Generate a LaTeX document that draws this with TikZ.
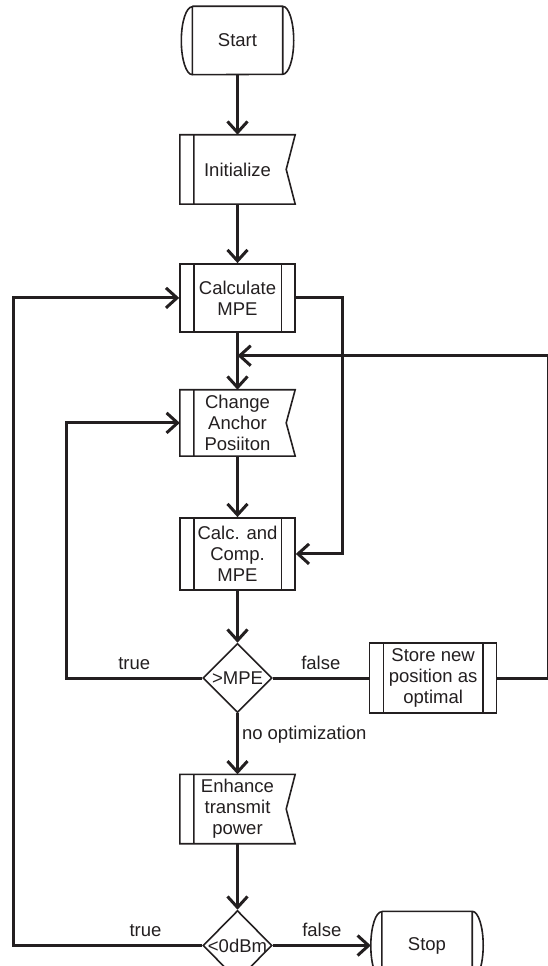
\documentclass[tikz,border=0pt]{standalone}
\usepackage{fontspec}
\setmainfont{Liberation Sans}
\usepackage{tikz}
\usetikzlibrary{shapes.geometric, arrows.meta, positioning}
\definecolor{ink}{HTML}{231F20}

\begin{document}
\begin{tikzpicture}[
    font=\fontsize{18.5}{21}\selectfont,
    color=ink,
    node distance=58pt,
    frame/.style={line width=1.6pt, line join=miter},
    shell/.style={rectangle, inner sep=0pt, minimum width=115pt, minimum height=68pt, align=center},
    terminal/.style={shell, minimum width=112pt},
    process/.style={shell, draw, frame},
    manual/.style={shell},
    decision/.style={diamond, draw, frame, inner sep=0pt, minimum width=69pt, minimum height=69pt},
    line/.style={line width=3pt},
    arrow/.style={line, -{Straight Barb[length=11pt, width=20pt]}},
    tag/.style={above=5pt, inner sep=2pt}
]
\useasboundingbox (0,0) rectangle (547pt,-966pt);

\node[terminal] (start) at (237.5pt,-40.5pt) {Start};
\node[manual, minimum height=69pt, below=60pt of start] (init) {Initialize};
\node[process, below=59pt of init] (calc) {Calculate\\MPE};
\coordinate[below=23pt of calc] (merge);
\node[manual, minimum height=66pt, below=57pt of calc] (change) {Change\\Anchor\\Posiiton};
\node[process, minimum height=72pt, below=61pt of change] (calccomp) {Calc. and\\Comp.\\MPE};
\node[decision, below=52pt of calccomp, label=center:{>MPE}] (test1) {};
\node[process, minimum width=127pt, minimum height=70pt, right=96pt of test1] (store) {Store new\\position as\\optimal};
\node[manual, minimum height=69pt, below=61pt of test1] (enhance) {Enhance\\transmit\\power};
\node[decision, minimum height=70pt, below=66pt of enhance, label=center:{<0dBm}] (test2) {};
\node[terminal, right=98pt of test2] (stop) {Stop};

% side bars of the process boxes
\foreach \n in {calc, calccomp, store}
  \draw[frame] ([xshift=14.5pt]\n.north west) -- ([xshift=14.5pt]\n.south west)
               ([xshift=-14.5pt]\n.north east) -- ([xshift=-14.5pt]\n.south east);

% boxes with the notched right side
\foreach \n in {init, change, enhance}
  \draw[frame] (\n.north west) -- (\n.north east) -- ([xshift=-9pt]\n.east)
    -- (\n.south east) -- (\n.south west) -- cycle
    ([xshift=14pt]\n.north west) -- ([xshift=14pt]\n.south west);

% start / stop
\foreach \n in {start, stop}
  \draw[frame] ([xshift=11pt]\n.north west) -- ([xshift=-11pt]\n.north east)
    arc[start angle=90, end angle=-90, x radius=11pt, y radius=34pt]
    -- ([xshift=11pt]\n.south west)
    arc[start angle=270, end angle=90, x radius=11pt, y radius=34pt]
    ([xshift=11pt]\n.north west) -- ([xshift=11pt]\n.south west)
    ([xshift=-11pt]\n.north east) -- ([xshift=-11pt]\n.south east);

\draw[arrow] (start) -- (init);
\draw[arrow] (init) -- (calc);
\draw[arrow] (calc) -- (change);
\draw[arrow] (calc.east) -- ++(47pt,0) |- (calccomp.east);
\draw[arrow] (change) -- (calccomp);
\draw[arrow] (calccomp) -- (test1);
\draw[arrow] (test1.west) -- ++(-136pt,0) node[tag, midway] {true} |- (change.west);
\draw[line] (test1.east) -- node[tag] {false} (store.west);
\draw[arrow] (store.east) -- ++(51pt,0) |- (merge);
\draw[arrow] (test1) -- node[right, pos=0.35, inner sep=3pt] {no optimization} (enhance);
\draw[arrow] (enhance) -- (test2);
\draw[arrow] (test2.west) -- ++(-189pt,0) node[tag, pos=0.3] {true} |- (calc.west);
\draw[arrow] (test2.east) -- node[tag] {false} (stop.west);

\end{tikzpicture}
\end{document}
